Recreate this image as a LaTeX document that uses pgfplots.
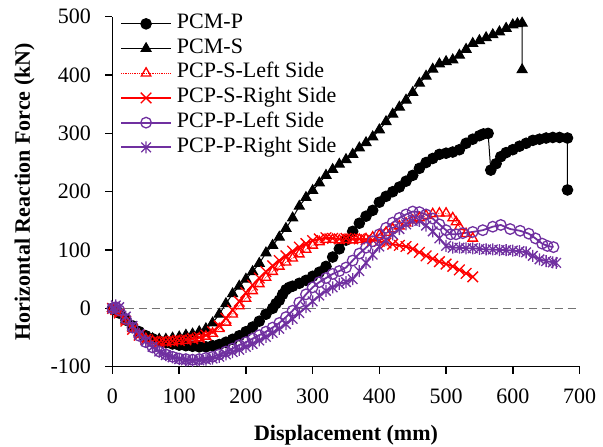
\documentclass[border=0pt]{standalone}
\usepackage{pgfplots}
\pgfplotsset{compat=1.18}
\usepackage{fontspec}
\setmainfont{Liberation Serif}
\definecolor{mypurple}{HTML}{7030A0}
\definecolor{myred}{HTML}{FF0000}
\definecolor{dashgray}{HTML}{737373}
\pgfdeclareplotmark{xstar}{%
  \pgfpathmoveto{\pgfqpoint{0pt}{\pgfplotmarksize}}%
  \pgfpathlineto{\pgfqpoint{0pt}{-\pgfplotmarksize}}%
  \pgfpathmoveto{\pgfqpoint{-0.8\pgfplotmarksize}{0.8\pgfplotmarksize}}%
  \pgfpathlineto{\pgfqpoint{0.8\pgfplotmarksize}{-0.8\pgfplotmarksize}}%
  \pgfpathmoveto{\pgfqpoint{-0.8\pgfplotmarksize}{-0.8\pgfplotmarksize}}%
  \pgfpathlineto{\pgfqpoint{0.8\pgfplotmarksize}{0.8\pgfplotmarksize}}%
  \pgfusepathqstroke}
\begin{document}
\begin{tikzpicture}
\begin{axis}[name=ax, scale only axis, width=467pt, height=350pt,
  xmin=0, xmax=700, ymin=-100, ymax=500,
  axis lines=left, axis line style={-, line width=1.5pt, black},
  tick align=outside, major tick length=7pt, tick style={line width=1.5pt, black},
  xtick={0,100,...,700}, ytick={-100,0,...,500},
  xticklabels={0,100,200,300,400,500,600,700},
  yticklabels={{-100},0,100,200,300,400,500},
  tick label style={font=\fontsize{22}{26}\selectfont},
  xticklabel style={yshift=-12pt},
  yticklabel style={xshift=-11pt},
  xlabel={Displacement (mm)}, ylabel={Horizontal Reaction Force (kN)},
  every axis x label/.style={at={(axis description cs:0.5,-0.212)}, anchor=base, font=\fontsize{22}{26}\selectfont\bfseries},
  every axis y label/.style={at={(axis description cs:-0.1767,0.5)}, rotate=90, anchor=base, font=\fontsize{22}{26}\selectfont\bfseries},
  clip=false,
  legend cell align=left,
  legend style={draw=none, fill=none, at={(axis description cs:0.016,1.0154)}, anchor=north west,
    inner sep=0pt, row sep=0pt, /tikz/column sep=5pt, font=\fontsize{22}{26}\selectfont,
    nodes={inner sep=0pt, text height=17pt, text depth=7.7pt}},
  legend image code/.code={\draw[mark repeat=2,mark phase=2,#1] plot coordinates {(0pt,0pt) (25pt,0pt) (50pt,0pt)};},
]
\addplot[dashgray, dashed, line width=1.5pt, dash pattern=on 8pt off 5pt, forget plot] coordinates {(0,0) (700,0)};
% PCM-P
\addplot[black, line width=1pt, mark=*, mark size=5.3pt, mark options={solid, fill=black}] coordinates {
(0,0)(5,-3)(10,-8)(20,-20)(30,-30)(40,-40)(50,-47)(60,-52)(70,-56)(80,-59)(90,-61)(100,-63)(110,-64)(120,-65)(130,-66)(140,-66)(150,-64)(160,-62)(170,-58)(180,-53)(190,-47)(200,-40)(210,-32)(220,-22)(230,-10)(240,0)(245,8)(250,14)(255,24)(260,32)(265,36)(270,38)(280,43)(290,48)(300,55)(310,62)(320,72)(330,88)(340,102)(350,117)(360,132)(370,146)(380,158)(390,168)(400,182)(410,192)(420,200)(430,208)(440,218)(450,228)(460,240)(470,250)(480,257)(490,264)(500,266)(510,268)(520,272)(530,283)(540,290)(550,296)(556,299)(563,300)(567,237)(575,248)(582,260)(590,267)(600,272)(610,278)(620,283)(630,288)(640,290)(650,292)(660,293)(670,293)(682,292)(682,203)};
\addlegendentry{PCM-P}
% PCM-S
\addplot[black, line width=1pt, mark=triangle*, mark size=5.8pt, mark options={solid, fill=black}] coordinates {
(0,0)(5,-3)(10,-8)(20,-20)(30,-32)(40,-42)(50,-48)(60,-52)(70,-53)(80,-53)(90,-51)(100,-49)(110,-46)(120,-44)(130,-40)(140,-35)(150,-25)(160,-10)(170,8)(180,25)(190,38)(200,50)(210,63)(220,77)(230,95)(240,108)(250,122)(260,137)(270,155)(280,175)(290,190)(300,202)(310,215)(320,228)(330,238)(340,247)(350,255)(360,264)(370,275)(380,284)(390,294)(400,306)(410,320)(420,333)(430,345)(440,357)(450,370)(460,386)(470,398)(480,410)(490,419)(500,423)(510,426)(520,434)(530,444)(540,454)(550,459)(560,464)(570,469)(580,474)(590,480)(600,486)(607,488)(614,489)(614,409)};
\addlegendentry{PCM-S}
% PCP-S-Left
\addplot[myred, line width=0.8pt, densely dotted, mark=triangle, mark size=5.5pt, mark options={solid, line width=1.3pt}] coordinates {
(0,0)(5,-2)(10,-8)(20,-22)(30,-35)(40,-45)(50,-52)(60,-56)(70,-58)(80,-58)(90,-57)(100,-56)(110,-55)(120,-53)(130,-51)(140,-48)(150,-43)(160,-35)(170,-24)(180,-10)(190,4)(200,17)(210,30)(220,42)(230,53)(240,63)(250,72)(260,79)(270,86)(280,93)(290,101)(300,108)(310,114)(320,118)(330,118)(340,117)(350,118)(360,117)(370,118)(380,119)(390,122)(400,126)(410,130)(420,136)(430,141)(440,146)(450,151)(460,155)(470,159)(480,162)(490,163)(500,163)(510,155)(515,148)(520,140)(530,128)(540,120)};
\addlegendentry{PCP-S-Left Side}
% PCP-S-Right
\addplot[myred, line width=1.8pt, mark=x, mark size=7.5pt, mark options={solid, line width=1.3pt}] coordinates {
(0,0)(5,-2)(10,-8)(20,-22)(30,-36)(40,-46)(50,-53)(60,-57)(70,-58)(80,-57)(90,-56)(100,-55)(110,-54)(120,-52)(130,-50)(140,-46)(150,-40)(160,-30)(170,-17)(180,-3)(190,12)(200,27)(210,40)(220,52)(230,63)(240,73)(250,82)(260,90)(270,98)(280,105)(290,111)(300,116)(310,119)(320,121)(330,120)(340,119)(350,120)(360,119)(370,119)(380,118)(390,117)(400,115)(410,112)(420,110)(430,108)(440,106)(450,102)(460,96)(470,90)(480,85)(490,80)(500,76)(510,72)(520,66)(530,60)(540,54)};
\addlegendentry{PCP-S-Right Side}
% PCP-P-Left
\addplot[mypurple, line width=1.8pt, mark=o, mark size=5.3pt, mark options={solid, line width=1.3pt, fill=white}] coordinates {
(0,0)(5,2)(10,-3)(20,-18)(30,-33)(40,-47)(50,-58)(60,-67)(70,-74)(80,-79)(90,-83)(100,-86)(110,-87)(120,-88)(130,-87)(140,-85)(150,-83)(160,-79)(170,-74)(180,-69)(190,-63)(200,-58)(210,-52)(220,-46)(230,-40)(240,-33)(250,-25)(260,-15)(270,-4)(280,10)(290,24)(300,36)(310,45)(320,52)(330,59)(340,64)(350,70)(360,82)(370,94)(380,104)(390,115)(400,127)(410,138)(420,147)(430,155)(440,161)(450,166)(460,165)(470,161)(480,154)(490,144)(500,134)(507,127)(515,127)(525,129)(540,131)(555,134)(570,140)(582,143)(596,136)(611,133)(624,128)(634,120)(644,111)(652,107)(661,105)};
\addlegendentry{PCP-P-Left Side}
% PCP-P-Right
\addplot[mypurple, line width=1.8pt, mark=xstar, mark size=6pt, mark options={solid, line width=1.3pt}] coordinates {
(0,0)(5,5)(10,2)(20,-14)(30,-30)(40,-44)(50,-56)(60,-66)(70,-74)(80,-80)(90,-84)(100,-87)(110,-89)(120,-90)(130,-89)(140,-88)(150,-86)(160,-83)(170,-79)(180,-75)(190,-71)(200,-66)(210,-61)(220,-55)(230,-49)(240,-42)(250,-35)(260,-27)(270,-18)(280,-8)(290,2)(300,12)(310,22)(320,30)(330,36)(340,42)(350,45)(360,50)(370,64)(380,78)(390,92)(400,106)(410,117)(420,127)(430,136)(440,144)(450,150)(460,150)(470,142)(480,132)(490,120)(500,107)(510,104)(520,104)(530,103)(540,103)(550,102)(560,101)(570,101)(580,100)(590,100)(600,99)(610,98)(620,96)(630,90)(640,84)(650,81)(660,79)(665,78)};
\addlegendentry{PCP-P-Right Side}
\end{axis}
\pgfresetboundingbox
\path ([xshift=-112.5pt,yshift=-79.3pt]ax.south west) rectangle ([xshift=23.5pt,yshift=16.7pt]ax.north east);
\end{tikzpicture}
\end{document}
